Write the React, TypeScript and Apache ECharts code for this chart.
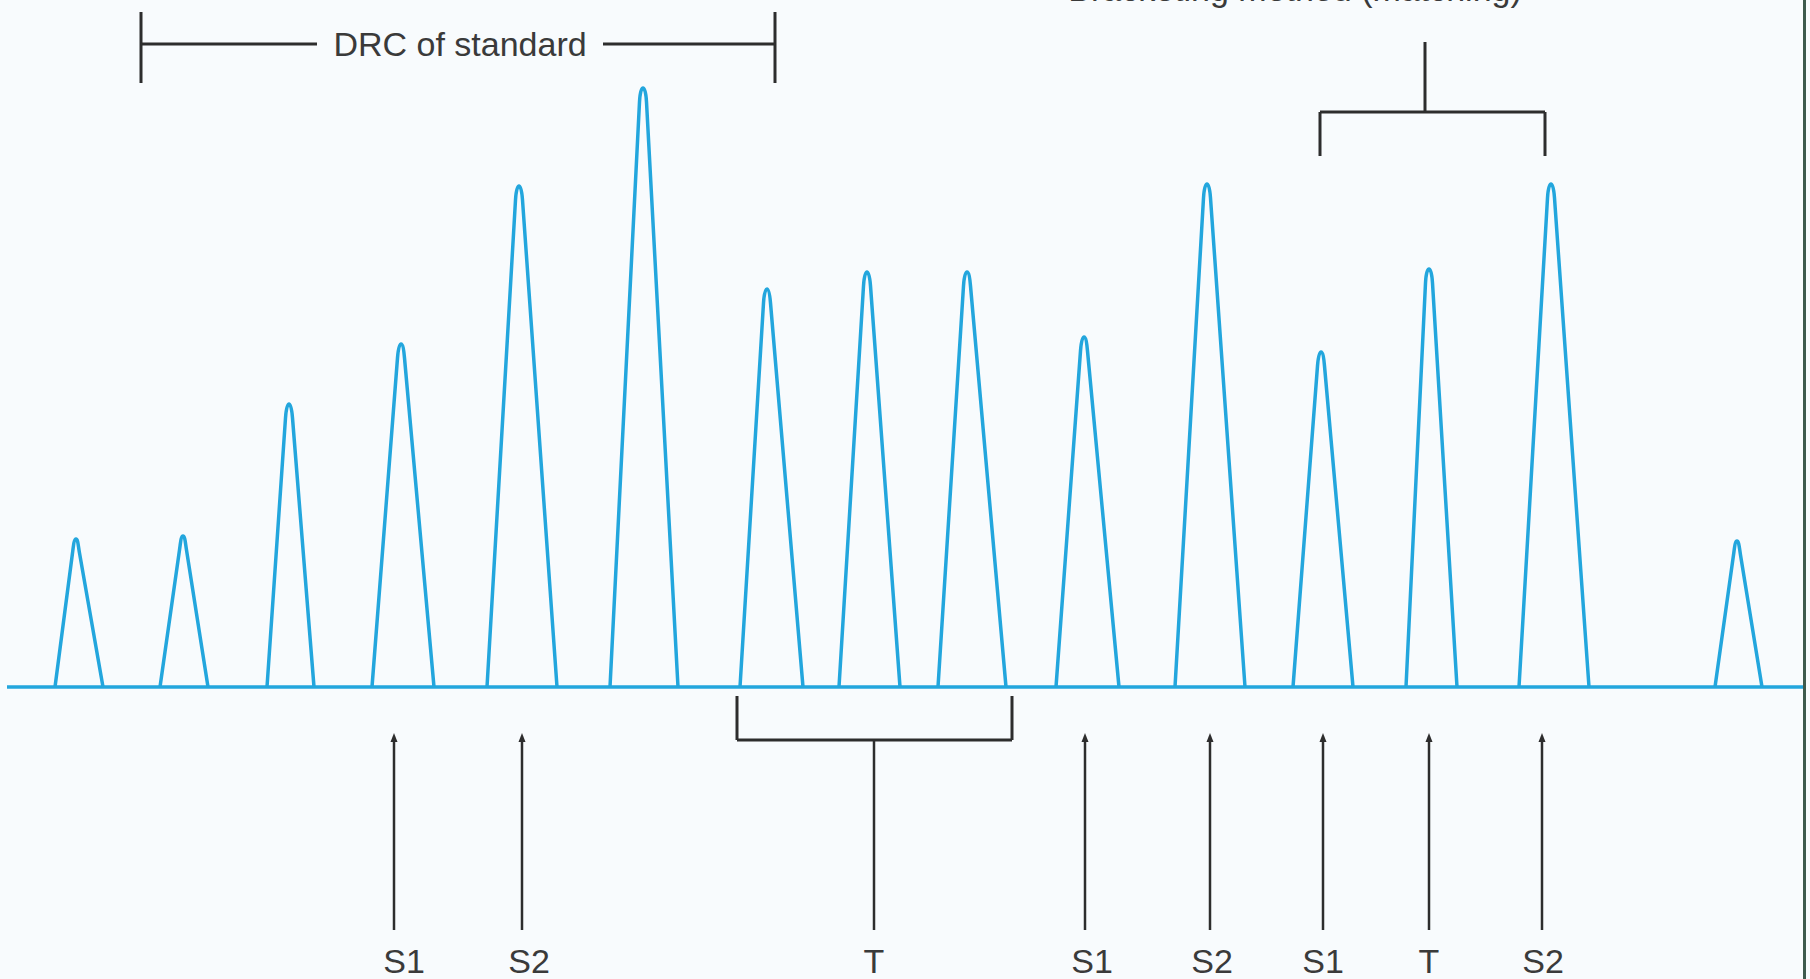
import React, { useEffect, useRef } from "react";
import * as echarts from "echarts";

// ---- data (x in time units, y in response units; baseline = 0) ----
const peakStart = [55, 160, 267, 372, 487, 610, 740, 839, 938, 1056, 1175, 1293, 1406, 1519, 1715];
const peakApex = [76, 183, 289, 401, 519, 643, 767, 867, 967, 1084, 1207, 1321, 1429, 1551, 1737];
const peakEnd = [103, 208, 314, 434, 557, 678, 803, 900, 1006, 1119, 1245, 1353, 1457, 1589, 1762];
const peakHeight = [148, 151, 283, 343, 501, 599, 398, 415, 415, 350, 503, 335, 418, 503, 146];
const baselineRange = [7, 1803];

// ---- annotations (in the same axis units) ----
const labelText = ["S1", "S2", "T", "S1", "S2", "S1", "T", "S2"];
const labelX = [404, 529, 874, 1092, 1212, 1323, 1429, 1543];
const labelY = -274;
const arrowX = [394, 522, 1085, 1210, 1323, 1429, 1542];
const arrowTop = -46;
const arrowBottom = -243;
const testBracketX = [737, 1012];
const testBracketTop = -9;
const testBracketBar = -53;
const testStemX = 874;
const drcBracketX = [141, 775];
const drcBracketY = [675, 604];
const drcLineY = 643;
const drcTextGap = [317, 603];
const drcText = "DRC of standard";
const bracketTopX = [1320, 1545];
const bracketStemX = 1425;
const bracketStemTop = 645;
const bracketBar = 575;
const bracketLegBottom = 531;
const topText = "Bracketing method (matching)";
const topTextX = 1295;
const topTextY = 698;

const Y_MIN = -292;
const Y_MAX = 687;
const X_MIN = 0;
const X_MAX = 1810;

const BLUE = "#23a6dd";
const INK = "#2d2d2d";
const TEXT = "#3a3a3a";
const FONT = "'Liberation Sans', Arial, Helvetica, sans-serif";

export default function App() {
  const ref = useRef<HTMLDivElement>(null);

  useEffect(() => {
    document.body.style.margin = "0";
    const chart = echarts.init(ref.current!, null, { renderer: "svg" });

    const peaks = peakStart.map((s, i) => [s, peakApex[i], peakEnd[i], peakHeight[i]]);

    chart.setOption({
      animation: false,
      backgroundColor: "#f8fbfd",
      grid: { left: 0, right: 0, top: 0, bottom: 0 },
      xAxis: { type: "value", min: X_MIN, max: X_MAX, show: false },
      yAxis: { type: "value", min: Y_MIN, max: Y_MAX, show: false },
      series: [
        {
          type: "line",
          data: [
            [baselineRange[0], 0],
            [baselineRange[1], 0],
          ],
          symbol: "none",
          lineStyle: { color: BLUE, width: 3.5 },
          silent: true,
        },
        {
          type: "custom",
          data: peaks,
          silent: true,
          renderItem: (params: any, api: any) => {
            const s = api.value(0);
            const a = api.value(1);
            const e = api.value(2);
            const h = api.value(3);
            const p0 = api.coord([s, 0]);
            const pa = api.coord([a, h]);
            const p1 = api.coord([e, 0]);
            // rounded cap: half-width w, depth k below the apex, tangent-continuous with the sides
            const w = 3.5;
            const k = 14;
            const lx = pa[0] - w;
            const rx = pa[0] + w;
            const sy = pa[1] + k;
            const m = 0.55 * k;
            const dl = [lx - p0[0], sy - p0[1]];
            const ll = Math.hypot(dl[0], dl[1]);
            const dr = [rx - p1[0], sy - p1[1]];
            const lr = Math.hypot(dr[0], dr[1]);
            const c1 = [lx + (dl[0] / ll) * m, sy + (dl[1] / ll) * m];
            const c4 = [rx + (dr[0] / lr) * m, sy + (dr[1] / lr) * m];
            const d =
              `M${p0[0]} ${p0[1]} L${lx} ${sy} ` +
              `C${c1[0]} ${c1[1]} ${pa[0] - 0.55 * w} ${pa[1]} ${pa[0]} ${pa[1]} ` +
              `C${pa[0] + 0.55 * w} ${pa[1]} ${c4[0]} ${c4[1]} ${rx} ${sy} ` +
              `L${p1[0]} ${p1[1]}`;
            return {
              type: "path",
              shape: { pathData: d },
              style: { fill: "none", stroke: BLUE, lineWidth: 3.5, lineJoin: "round" },
            };
          },
        },
      ],
    });

    const px = (x: number, y: number) => chart.convertToPixel({ gridIndex: 0 }, [x, y]) as number[];
    const line = (a: number[], b: number[], lw = 3) => ({
      type: "line",
      silent: true,
      shape: { x1: a[0], y1: a[1], x2: b[0], y2: b[1] },
      style: { stroke: INK, lineWidth: lw },
    });
    const text = (t: string, p: number[]) => ({
      type: "text",
      silent: true,
      x: p[0],
      y: p[1],
      style: {
        text: t,
        fill: TEXT,
        fontSize: 34,
        fontFamily: FONT,
        align: "center",
        verticalAlign: "middle",
      },
    });

    const g: any[] = [];
    // DRC of standard bracket
    g.push(line(px(drcBracketX[0], drcBracketY[0]), px(drcBracketX[0], drcBracketY[1])));
    g.push(line(px(drcBracketX[1], drcBracketY[0]), px(drcBracketX[1], drcBracketY[1])));
    g.push(line(px(drcBracketX[0], drcLineY), px(drcTextGap[0], drcLineY)));
    g.push(line(px(drcTextGap[1], drcLineY), px(drcBracketX[1], drcLineY)));
    g.push(text(drcText, px((drcTextGap[0] + drcTextGap[1]) / 2, drcLineY)));

    // top right bracket
    g.push(line(px(bracketStemX, bracketStemTop), px(bracketStemX, bracketBar)));
    g.push(line(px(bracketTopX[0], bracketBar), px(bracketTopX[1], bracketBar)));
    g.push(line(px(bracketTopX[0], bracketBar), px(bracketTopX[0], bracketLegBottom)));
    g.push(line(px(bracketTopX[1], bracketBar), px(bracketTopX[1], bracketLegBottom)));
    g.push(text(topText, px(topTextX, topTextY)));

    // test bracket below baseline
    g.push(line(px(testBracketX[0], testBracketTop), px(testBracketX[0], testBracketBar)));
    g.push(line(px(testBracketX[1], testBracketTop), px(testBracketX[1], testBracketBar)));
    g.push(line(px(testBracketX[0], testBracketBar), px(testBracketX[1], testBracketBar)));
    g.push(line(px(testStemX, testBracketBar), px(testStemX, arrowBottom), 2.5));

    // arrows
    arrowX.forEach((x) => {
      const top = px(x, arrowTop);
      const bot = px(x, arrowBottom);
      g.push(line([top[0], top[1] + 6], bot, 2.5));
      g.push({
        type: "polygon",
        silent: true,
        shape: {
          points: [
            [top[0], top[1]],
            [top[0] - 3.5, top[1] + 9],
            [top[0] + 3.5, top[1] + 9],
          ],
        },
        style: { fill: INK },
      });
    });

    // labels
    labelText.forEach((t, i) => g.push(text(t, px(labelX[i], labelY))));

    // right frame edge
    g.push({
      type: "rect",
      silent: true,
      shape: { x: 1803, y: 0, width: 3, height: 979 },
      style: { fill: "#3e5a4d" },
    });

    chart.setOption({ graphic: g });

    return () => chart.dispose();
  }, []);

  return (
    <div
      ref={ref}
      style={{ position: "fixed", left: 0, top: 0, width: 1810, height: 979 }}
    />
  );
}
